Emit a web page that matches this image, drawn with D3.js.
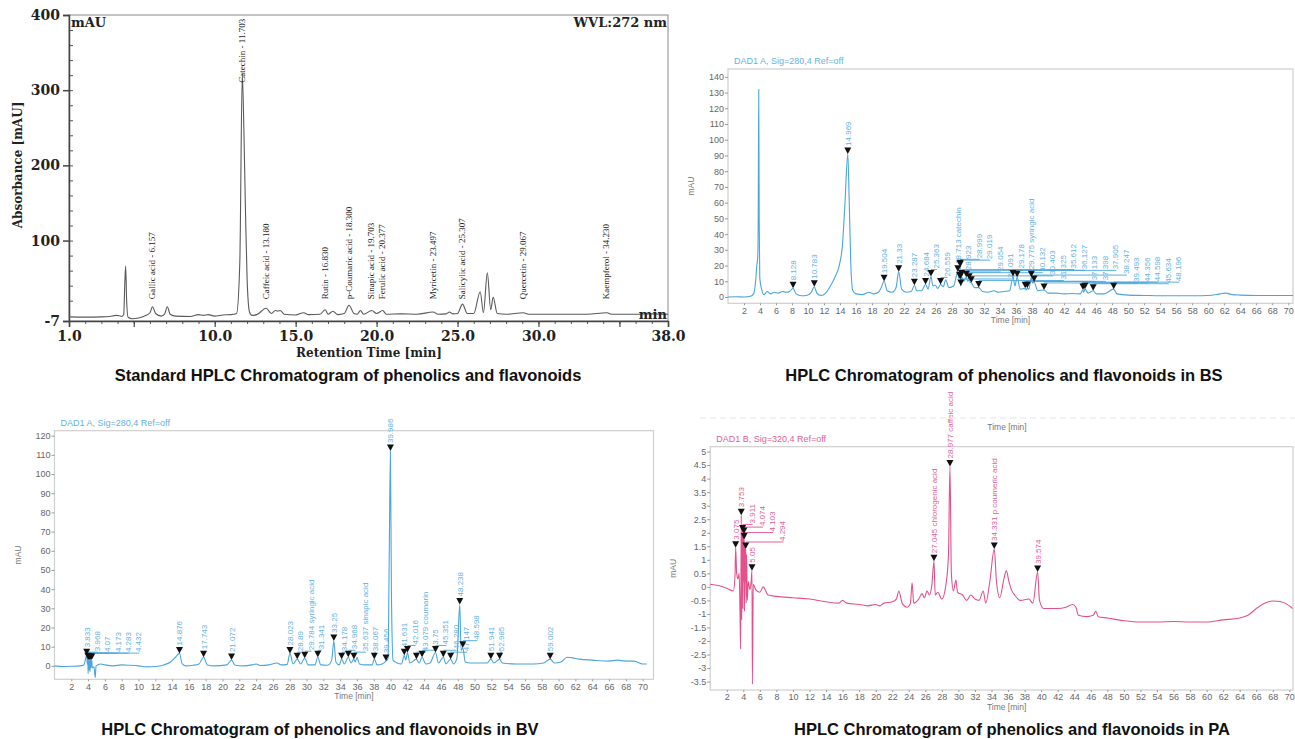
<!DOCTYPE html>
<html>
<head>
<meta charset="utf-8">
<script src="https://cdn.jsdelivr.net/npm/d3@7"></script>
<style>
  body { margin: 0; background: #fff; }
  svg { display: block; font-family: "Liberation Sans", Arial, sans-serif; }
</style>
</head>
<body>
<svg id="chart" width="1295" height="739"></svg>
<script>
// ---------- data ----------

// standard chromatogram, [time min, mAU]
const stdTrace = [[1,-1.5],[2,-1.8],[3,-1.5],[3.5,-1],[3.9,0.5],[4.1,0],[4.25,-1],[4.38,2],[4.45,45],[4.5,66],[4.56,20],[4.65,-2],[4.9,-4],[5.3,-3],[5.7,0],[6.0,4],[6.157,12],[6.35,3],[6.7,-0.5],[6.9,2],[7.07,12],[7.25,2],[7.6,-0.5],[8.5,-1],[9.0,1.5],[9.3,0.5],[9.6,1.5],[10,-0.5],[10.5,1],[11,1.5],[11.35,3],[11.55,70],[11.703,322],[11.8,250],[11.9,140],[12,50],[12.15,5],[12.3,0.5],[12.6,1.5],[13.18,10],[13.5,3],[13.75,7],[13.9,6],[14.05,7],[14.3,2],[15,1],[15.5,4],[15.8,1.5],[16.5,2],[16.83,8],[17.0,2],[17.3,6],[17.6,1.5],[18,3],[18.3,14],[18.6,3],[18.8,2],[19.0,7],[19.2,2],[19.703,7],[20,3],[20.377,7],[20.6,2],[21.5,2.5],[22.5,2],[23.497,5],[23.8,2],[24.3,2.5],[24.5,5],[24.7,2.5],[25.0,3],[25.307,15.5],[25.6,3],[26.0,3],[26.4,32],[26.6,4],[26.84,57],[27.05,8],[27.2,25],[27.45,3],[28,2],[29.067,4],[29.4,2],[31,2],[33,2],[34.23,4],[34.5,2],[36,2],[37,2.5],[38,2]];
// [time, peak height, label]
const stdPeaks = [[6.157,12,"Gallic acid - 6.157"],[11.703,322,"Catechin - 11.703"],[13.18,10,"Caffeic acid - 13.180"],[16.83,8,"Rutin - 16.830"],[18.3,14,"p-Coumaric acid - 18.300"],[19.703,7,"Sinapic acid - 19.703"],[20.377,7,"Ferulic acid - 20.377"],[23.497,5,"Myricetin - 23.497"],[25.307,15.5,"Salicylic acid - 25.307"],[29.067,4,"Quercetin - 29.067"],[34.23,4,"Kaempferol - 34.230"]];
const stdXTicks = [1, 5, 10, 15, 20, 25, 30, 35, 38];
const stdXLabels = ["1.0", "", "10.0", "15.0", "20.0", "25.0", "30.0", "", "38.0"];
const stdYTicks = [-7, 100, 200, 300, 400];

// BS sample, DAD1 A 280 nm
const bsTrace = [[0,0],[1,0.2],[2,0],[2.8,0.5],[3.2,2],[3.45,10],[3.6,20],[3.72,26],[3.78,53],[3.84,132],[3.9,48],[3.97,12],[4.2,5],[4.5,1.5],[4.9,3.5],[5.3,2],[5.8,3],[6.3,2.5],[6.8,3.5],[7.3,3],[7.7,3.5],[8.128,5.5],[8.5,2],[9.2,0.8],[9.8,1],[10.4,3],[10.783,6.5],[11.1,2.5],[11.6,1],[12.2,2.5],[12.8,7],[13.4,13],[13.9,20],[14.3,33],[14.6,58],[14.969,91],[15.15,60],[15.35,20],[15.6,4],[16,2],[16.8,1.5],[17.6,3],[18.2,2],[18.8,3],[19.15,6],[19.504,10],[19.9,4],[20.5,3],[21,6],[21.33,16],[21.7,5],[22.3,3],[22.9,3.5],[23.287,7.5],[23.6,4],[24.2,4],[24.684,8],[25,5],[25.363,13],[25.6,7],[25.9,7.5],[26.2,5.5],[26.559,8],[26.9,6.5],[27.2,11],[27.6,6],[28.2,7],[28.713,16],[28.82,12],[28.923,12],[28.97,15],[28.999,19.5],[29.01,18],[29.019,19],[29.04,14],[29.054,11.5],[29.07,9],[29.091,7],[29.13,10],[29.178,13],[29.45,10],[29.775,12.5],[29.95,10],[30.132,11],[30.25,9.5],[30.403,9],[30.8,6],[31.325,6],[31.8,3.5],[32.5,3],[33.2,4],[33.8,3],[34.5,3.5],[35.2,4],[35.612,13],[35.85,7],[36.127,12.5],[36.5,5],[37.133,5.5],[37.25,4.5],[37.398,5.5],[37.6,5],[37.905,12.5],[38.05,9],[38.247,9.5],[38.7,4],[39.493,4.5],[40,2.5],[41,2.5],[42,2],[43,2.2],[44,2],[44.356,4.5],[44.45,3],[44.598,5],[45,2.5],[45.634,4],[46,2],[47,2],[48.196,5],[48.6,2],[50,1.2],[52,1],[54,0.8],[56,0.8],[58,0.8],[60,1],[61.5,2],[62.2,2.5],[63,1.5],[64,1.2],[66,1],[68,1],[70,1],[70.6,1]];
const bsPeaks = [[8.128,5.5,"8.128"],[10.783,6.5,"10.783"],[14.969,91,"14.969"],[19.504,10,"19.504"],[21.33,16,"21.33"],[23.287,7.5,"23.287"],[24.684,8,"24.684"],[25.363,13,"25.363"],[26.559,8,"26.559"],[28.713,16,"28.713 catechin"],[28.923,12,"28.923"],[28.999,19.5,"28.999"],[29.019,19,"29.019"],[29.054,11.5,"29.054"],[29.091,7,"29.091"],[29.178,13,"29.178"],[29.775,12.5,"29.775 syringic acid"],[30.132,11,"30.132"],[30.403,9,"30.403"],[31.325,6,"31.325"],[35.612,13,"35.612"],[36.127,12.5,"36.127"],[37.133,5.5,"37.133"],[37.398,5.5,"37.398"],[37.905,12.5,"37.905"],[38.247,9.5,"38.247"],[39.493,4.5,"39.493"],[44.356,4.5,"44.356"],[44.598,5,"44.598"],[45.634,4,"45.634"],[48.196,5,"48.196"]];
const bsYTicks = [0, 10, 20, 30, 40, 50, 60, 70, 80, 90, 100, 110, 120, 130, 140];

// BV sample, DAD1 A 280 nm
const bvTrace = [[0,0],[1,-0.3],[2,-0.2],[3,0],[3.5,0.5],[3.833,5.5],[3.9,1],[3.968,3.5],[4.0,-4],[4.07,3],[4.12,-2],[4.173,3],[4.22,-3],[4.283,3],[4.35,-1],[4.432,3],[4.5,-1],[4.7,-0.5],[4.85,-6],[4.95,0],[5.5,1],[6,0.5],[7,0],[8,0.5],[9,0.3],[10,0],[11,-0.5],[12,-0.3],[13,0.5],[13.8,2],[14.4,4.5],[14.876,6.5],[15.2,1],[15.6,0],[16.5,0.3],[17.2,1],[17.743,4.5],[18.2,0.5],[19,0],[20.5,0.5],[21.072,3],[21.5,0.3],[22.5,0],[23.5,0.5],[24,1],[24.5,0.2],[25.5,0.5],[26.5,1.5],[27,0.5],[27.7,0.8],[28.023,6.5],[28.4,1],[28.89,3.5],[29.3,1],[29.784,4],[30.2,0.5],[31,0.5],[31.341,4.5],[31.7,0.5],[32.5,0.3],[33.0,3],[33.25,13],[33.5,2],[33.9,0.5],[34.178,3.5],[34.5,1],[34.968,4.5],[35.3,1.5],[35.637,3.5],[35.8,2],[36.0,4.5],[36.3,1],[37,0.5],[37.8,0.5],[38.067,3.5],[38.4,0.5],[39,1],[39.456,2.5],[39.7,4],[39.85,60],[39.986,112],[40.1,40],[40.3,3],[40.8,1.5],[41.3,1],[41.631,5.5],[41.8,3],[42.016,7],[42.3,1.5],[43.079,3.5],[43.4,1.5],[43.75,4.5],[44.2,1],[44.7,1.5],[45.351,7],[45.7,1.5],[46.28,4.5],[46.6,1],[47.147,3.5],[47.5,1],[47.9,4],[48.238,32],[48.4,8],[48.598,9.5],[48.9,2],[49.5,1.5],[50.5,1.5],[51.5,1.5],[51.941,3.5],[52.3,1.5],[52.985,3.5],[53.3,1.5],[55,1],[57,1],[58.2,1.5],[59.002,3.5],[59.5,1.5],[60.3,2],[61,4.5],[61.5,4.3],[62.5,3.5],[64,3],[66,2.5],[67,3],[68,2.5],[69,2.5],[70,1],[70.5,1]];
const bvPeaks = [[3.833,5.5,"3.833"],[3.968,3.5,"3.968"],[4.07,3,"4.07"],[4.173,3,"4.173"],[4.283,3,"4.283"],[4.432,3,"4.432"],[14.876,6.5,"14.876"],[17.743,4.5,"17.743"],[21.072,3,"21.072"],[28.023,6.5,"28.023"],[28.89,3.5,"28.89"],[29.784,4,"29.784 syringic acid"],[31.341,4.5,"31.341"],[33.25,13,"33.25"],[34.178,3.5,"34.178"],[34.968,4.5,"34.968"],[35.637,3.5,"35.637 sinapic acid"],[38.067,3.5,"38.067"],[39.456,2.5,"39.456"],[39.986,112,"39.986"],[41.631,5.5,"41.631"],[42.016,7,"42.016"],[43.079,3.5,"43.079 coumarin"],[43.75,4.5,"43.75"],[45.351,7,"45.351"],[46.28,4.5,"46.280"],[47.147,3.5,"47.147"],[48.238,32,"48.238"],[48.598,9.5,"48.598"],[51.941,3.5,"51.941"],[52.985,3.5,"52.985"],[59.002,3.5,"59.002"]];
const bvYTicks = [0, 10, 20, 30, 40, 50, 60, 70, 80, 90, 100, 110, 120];

// PA sample, DAD1 B 320 nm
const paTrace = [[0,0.1],[1,0.05],[2,-0.05],[2.8,-0.15],[3.0,0.4],[3.075,1.45],[3.2,0.5],[3.35,0.3],[3.5,0.5],[3.6,-0.9],[3.68,-2.3],[3.753,2.65],[3.8,-1.2],[3.86,1.8],[3.911,2.05],[3.95,-0.8],[4.0,1.9],[4.074,1.95],[4.09,0.2],[4.103,1.75],[4.15,-0.9],[4.2,1.6],[4.25,0.2],[4.294,1.4],[4.35,-0.6],[4.4,1.2],[4.48,-0.5],[4.6,0.2],[4.8,-0.1],[4.95,0.2],[5.05,0.6],[5.1,-3.6],[5.2,0.1],[5.5,-0.1],[6,-0.2],[6.4,0.0],[7,-0.3],[8,-0.35],[10,-0.4],[12,-0.45],[14,-0.55],[15.5,-0.6],[16,-0.5],[16.5,-0.6],[18,-0.65],[19,-0.7],[20,-0.65],[20.5,-0.7],[21,-0.6],[22,-0.55],[22.5,-0.45],[22.8,-0.15],[23.2,-0.6],[23.8,-0.75],[24.2,-0.6],[24.4,0.15],[24.6,-0.6],[25.2,-0.45],[25.6,-0.25],[25.9,-0.4],[26.2,-0.15],[26.5,-0.3],[26.8,0.1],[27.045,0.95],[27.2,-0.3],[27.5,-0.2],[28,-0.45],[28.5,0.1],[28.8,1.2],[28.977,4.45],[29.15,0.5],[29.4,-0.15],[29.7,0.25],[29.9,-0.2],[30.5,-0.3],[31,-0.5],[31.5,-0.3],[32,-0.45],[32.5,-0.5],[33,-0.15],[33.3,-0.6],[33.8,0.2],[34.331,1.4],[34.6,0.2],[35.0,-0.4],[35.5,0.3],[35.8,0.6],[36.1,0.2],[36.4,-0.1],[36.8,-0.3],[37.5,-0.5],[38.5,-0.45],[39,-0.6],[39.574,0.55],[39.8,-0.5],[40.3,-0.8],[41,-0.8],[42,-0.8],[43,-0.75],[43.8,-0.65],[44.2,-0.75],[44.5,-1.05],[45.5,-1.1],[46.3,-1.05],[46.6,-0.9],[46.9,-1.1],[48,-1.15],[50,-1.25],[52,-1.3],[54,-1.3],[56,-1.28],[58,-1.3],[60,-1.3],[62,-1.22],[64,-1.15],[65,-1.05],[66,-0.8],[67,-0.6],[68,-0.52],[69,-0.55],[70,-0.7],[70.4,-0.8]];
const paPeaks = [[3.075,1.45,"3.075"],[3.753,2.65,"3.753"],[3.911,2.05,"3.911"],[4.074,1.95,"4.074"],[4.103,1.75,"4.103"],[4.294,1.4,"4.294"],[5.05,0.6,"5.05"],[27.045,0.95,"27.045 chlorogenic acid"],[28.977,4.45,"28.977 caffeic acid"],[34.331,1.4,"34.331 p coumeric acid"],[39.574,0.55,"39.574"]];
const paYTicks = [-3.5, -3, -2.5, -2, -1.5, -1, -0.5, 0, 0.5, 1, 1.5, 2, 2.5, 3, 3.5, 4, 4.5, 5];

const timeTicks = [2,4,6,8,10,12,14,16,18,20,22,24,26,28,30,32,34,36,38,40,42,44,46,48,50,52,54,56,58,60,62,64,66,68,70];

const captions = [
  "Standard HPLC Chromatogram of phenolics and flavonoids",
  "HPLC Chromatogram of phenolics and flavonoids in BS",
  "HPLC Chromatogram of phenolics and flavonoids in BV",
  "HPLC Chromatogram of phenolics and flavonoids in PA"
];

// ---------- drawing ----------
const svg = d3.select("#chart");
svg.append("rect").attr("width", 1295).attr("height", 739).attr("fill", "#fff");

// ----- standard (top left) -----
function drawStandard() {
  const g = svg.append("g");
  const x = d3.scaleLinear().domain([1, 38]).range([69, 668]);
  const y = d3.scaleLinear().domain([-7, 400]).range([321, 15]);
  const serif = "'DejaVu Serif', 'Liberation Serif', serif";

  g.append("rect").attr("x", 69).attr("y", 15).attr("width", 599).attr("height", 306)
    .attr("fill", "none").attr("stroke", "#8a8a8a").attr("stroke-width", 1);

  // minor ticks
  g.append("g").attr("transform", "translate(69,0)")
    .call(d3.axisLeft(y).tickValues(d3.range(20, 400, 20)).tickSize(-4).tickFormat(""))
    .call(a => a.select(".domain").remove())
    .call(a => a.selectAll("line").attr("stroke", "#555"));
  g.append("g").attr("transform", "translate(0,321)")
    .call(d3.axisBottom(x).tickValues(d3.range(2, 38, 1)).tickSize(3).tickFormat(""))
    .call(a => a.select(".domain").remove())
    .call(a => a.selectAll("line").attr("stroke", "#555"));

  const ay = g.append("g").attr("transform", "translate(69,0)")
    .call(d3.axisLeft(y).tickValues(stdYTicks).tickSize(6).tickPadding(3).tickFormat(d => String(d)));
  ay.select(".domain").attr("stroke", "#444").attr("stroke-width", 1.5);
  ay.selectAll("line").attr("stroke", "#444").attr("stroke-width", 1.5);
  ay.selectAll("text").attr("font-family", serif).attr("font-weight", "bold").attr("font-size", 14).attr("fill", "#222");

  const ax = g.append("g").attr("transform", "translate(0,321)")
    .call(d3.axisBottom(x).tickValues(stdXTicks).tickSize(6).tickPadding(4).tickFormat((d, i) => stdXLabels[i]));
  ax.select(".domain").attr("stroke", "#444").attr("stroke-width", 1.5);
  ax.selectAll("line").attr("stroke", "#444").attr("stroke-width", 1.2);
  ax.selectAll("text").attr("font-family", serif).attr("font-weight", "bold").attr("font-size", 14).attr("fill", "#222");

  g.append("path").datum(stdTrace)
    .attr("d", d3.line().x(d => x(d[0])).y(d => y(d[1])).curve(d3.curveMonotoneX))
    .attr("fill", "none").attr("stroke", "#5a5a5a").attr("stroke-width", 1.1);

  g.selectAll(".pk").data(stdPeaks).join("text")
    .attr("transform", d => `translate(${x(d[0]) + 2.5},${y(Math.max(22, d[1] - 12))}) rotate(-90)`)
    .attr("font-family", "'Liberation Serif', serif").attr("font-size", 9).attr("fill", "#222")
    .text(d => d[2]);

  g.append("text").attr("x", 71).attr("y", 27).attr("font-family", serif).attr("font-weight", "bold")
    .attr("font-size", 13).attr("fill", "#222").text("mAU");
  g.append("text").attr("x", 667).attr("y", 27).attr("text-anchor", "end").attr("font-family", serif)
    .attr("font-weight", "bold").attr("font-size", 13).attr("fill", "#222").text("WVL:272 nm");
  g.append("text").attr("x", 667).attr("y", 319).attr("text-anchor", "end").attr("font-family", serif)
    .attr("font-weight", "bold").attr("font-size", 13).attr("fill", "#222").text("min");
  g.append("text").attr("x", 369).attr("y", 357).attr("text-anchor", "middle").attr("font-family", serif)
    .attr("font-weight", "bold").attr("font-size", 12).attr("fill", "#222").text("Retention Time [min]");
  g.append("text").attr("transform", "translate(22,165) rotate(-90)").attr("text-anchor", "middle")
    .attr("font-family", serif).attr("font-weight", "bold").attr("font-size", 12).attr("fill", "#222")
    .text("Absorbance [mAU]");
}

// ----- Agilent style panels -----
function drawAgilent(cfg) {
  const g = svg.append("g");
  const x = d3.scaleLinear().domain(cfg.xDomain).range([cfg.left, cfg.right]);
  const y = d3.scaleLinear().domain(cfg.yDomain).range([cfg.bottom, cfg.top]);

  g.append("rect").attr("x", cfg.left).attr("y", cfg.top)
    .attr("width", cfg.right - cfg.left).attr("height", cfg.bottom - cfg.top)
    .attr("fill", "none").attr("stroke", "#cfcfcf").attr("stroke-width", 1.2);

  const ax = g.append("g").attr("transform", `translate(0,${cfg.bottom})`)
    .call(d3.axisBottom(x).tickValues(timeTicks).tickSize(2).tickPadding(2).tickFormat(d => String(d)));
  ax.select(".domain").remove();
  ax.selectAll("line").attr("stroke", "#999");
  ax.selectAll("text").attr("font-size", 9).attr("fill", "#666");

  const ay = g.append("g").attr("transform", `translate(${cfg.left},0)`)
    .call(d3.axisLeft(y).tickValues(cfg.yTicks).tickSize(3).tickPadding(1).tickFormat(d => String(d)));
  ay.select(".domain").remove();
  ay.selectAll("line").attr("stroke", "#999");
  ay.selectAll("text").attr("font-size", 9).attr("fill", "#666");

  g.append("text").attr("x", cfg.left + 6).attr("y", cfg.top - 5).attr("font-size", 9)
    .attr("fill", cfg.label).text(cfg.title);
  g.append("text").attr("x", (cfg.left + cfg.right) / 2 + cfg.timeShift).attr("y", cfg.bottom + 20)
    .attr("text-anchor", "middle").attr("font-size", 8.5).attr("fill", "#777").text("Time [min]");
  g.append("text").attr("transform", `translate(${cfg.left - 34},${(cfg.top + cfg.bottom) / 2}) rotate(-90)`)
    .attr("text-anchor", "middle").attr("font-size", 8.5).attr("fill", "#777").text("mAU");

  g.append("path").datum(cfg.trace)
    .attr("d", d3.line().x(d => x(d[0])).y(d => y(d[1])).curve(d3.curveMonotoneX))
    .attr("fill", "none").attr("stroke", cfg.color).attr("stroke-width", 1.1);

  // peak labels: shift right until they no longer overlap an earlier label
  const leaders = g.append("g");
  const labels = g.append("g");
  const placed = [];
  cfg.peaks.forEach(p => {
    const px = x(p[0]);
    const base = y(p[1]) - 7;
    const t = labels.append("text").attr("font-size", 8).attr("fill", cfg.label).text(p[2]);
    const len = t.node().getComputedTextLength() || p[2].length * 4.4;
    let lx = px;
    for (let k = 0; k < 200; k++) {
      const hits = placed.filter(q => Math.abs(q.x - lx) < cfg.gap - 0.05 &&
        base - len - 1 < q.base && q.base - q.len - 1 < base);
      if (!hits.length) break;
      lx = d3.max(hits, q => q.x) + cfg.gap;
    }
    placed.push({ x: lx, base: base, len: len });
    t.attr("transform", `translate(${lx + 3},${base - 1}) rotate(-90)`);
    if (lx - px > 0.5) {
      leaders.append("path").attr("d", `M${px},${base}H${lx + 1}`)
        .attr("stroke", cfg.color).attr("stroke-width", 0.9).attr("fill", "none");
    }
  });

  g.selectAll(".mk").data(cfg.peaks).join("path")
    .attr("d", d => {
      const px = x(d[0]), py = y(d[1]);
      return `M${px - 3.5},${py - 6.5}L${px + 3.5},${py - 6.5}L${px},${py}Z`;
    })
    .attr("fill", "#111");
}

drawStandard();

drawAgilent({
  left: 728, right: 1293, top: 69, bottom: 303.3,
  xDomain: [0, 70.6], yDomain: [-4, 145], yTicks: bsYTicks,
  trace: bsTrace, peaks: bsPeaks, gap: 10.5,
  color: "#4aa6dc", label: "#64b2e2", title: "DAD1 A, Sig=280,4 Ref=off", timeShift: 0
});

drawAgilent({
  left: 54.5, right: 653.5, top: 430.7, bottom: 679.3,
  xDomain: [0, 71.3], yDomain: [-7, 122.6], yTicks: bvYTicks,
  trace: bvTrace, peaks: bvPeaks, gap: 10.3,
  color: "#4aa6dc", label: "#64b2e2", title: "DAD1 A, Sig=280,4 Ref=off", timeShift: 0
});

drawAgilent({
  left: 710.2, right: 1293, top: 446.7, bottom: 690,
  xDomain: [0, 70.44], yDomain: [-3.81, 5.18], yTicks: paYTicks,
  trace: paTrace, peaks: paPeaks, gap: 10.3,
  color: "#e4508c", label: "#de5f98", title: "DAD1 B, Sig=320,4 Ref=off", timeShift: 5
});

// remnant of the cropped chart above the PA panel
svg.append("text").attr("x", 1007).attr("y", 430).attr("text-anchor", "middle")
  .attr("font-size", 8.5).attr("fill", "#777").text("Time [min]");
svg.append("line").attr("x1", 700).attr("x2", 1295).attr("y1", 418).attr("y2", 418)
  .attr("stroke", "#eee").attr("stroke-width", 1.5).attr("stroke-dasharray", "6,4");

// captions
const capPos = [[348, 381], [1004, 381], [320, 735], [1012, 735]];
svg.selectAll(".cap").data(captions).join("text")
  .attr("x", (d, i) => capPos[i][0]).attr("y", (d, i) => capPos[i][1])
  .attr("text-anchor", "middle").attr("font-weight", "bold").attr("font-size", 16.5).attr("fill", "#111")
  .text(d => d);
</script>
</body>
</html>
